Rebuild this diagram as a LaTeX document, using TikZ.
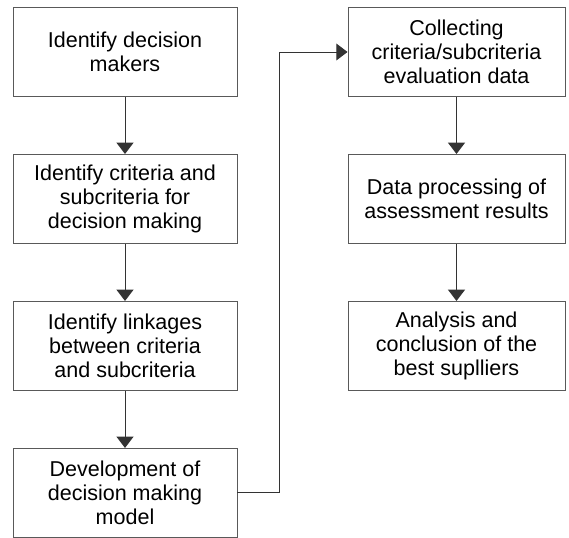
\documentclass[tikz,border=0pt]{standalone}
\usepackage{fontspec}
\setmainfont{Liberation Sans}
\usetikzlibrary{arrows.meta,positioning}

\tikzstyle{box} = [draw=black!65, line width=0.7pt, minimum height=2.225cm, align=center, inner sep=0pt, font=\fontsize{15.3}{17}\selectfont]
\tikzstyle{leftbox} = [box, minimum width=5.6cm]
\tikzstyle{rightbox} = [box, minimum width=5.425cm]
\tikzstyle{arr} = [draw=black!80, line width=0.7pt, -{Triangle[width=12pt,length=8pt]}]

\begin{document}
\begin{tikzpicture}[node distance=1.425cm]
\useasboundingbox (0,0) rectangle (14.225,13.45);
% left column
\node[leftbox] (makers) at (3.125,12.15) {Identify decision\\makers};
\node[leftbox, below=of makers] (criteria) {Identify criteria and\\subcriteria for\\decision making};
\node[leftbox, below=of criteria] (linkages) {Identify linkages\\between criteria\\and subcriteria};
\node[leftbox, below=of linkages] (model) {Development of\\decision making\\model};
% right column
\node[rightbox] (collect) at (11.4125,12.15) {Collecting\\criteria/subcriteria\\evaluation data};
\node[rightbox, below=of collect] (process) {Data processing of\\assessment results};
\node[rightbox, below=of process] (analysis) {Analysis and\\conclusion of the\\best suplliers};

\draw[arr] (makers) -- (criteria);
\draw[arr] (criteria) -- (linkages);
\draw[arr] (linkages) -- (model);
\draw[arr] (model.east) -- ++(1.05,0) |- (collect.west);
\draw[arr] (collect) -- (process);
\draw[arr] (process) -- (analysis);
\end{tikzpicture}
\end{document}
